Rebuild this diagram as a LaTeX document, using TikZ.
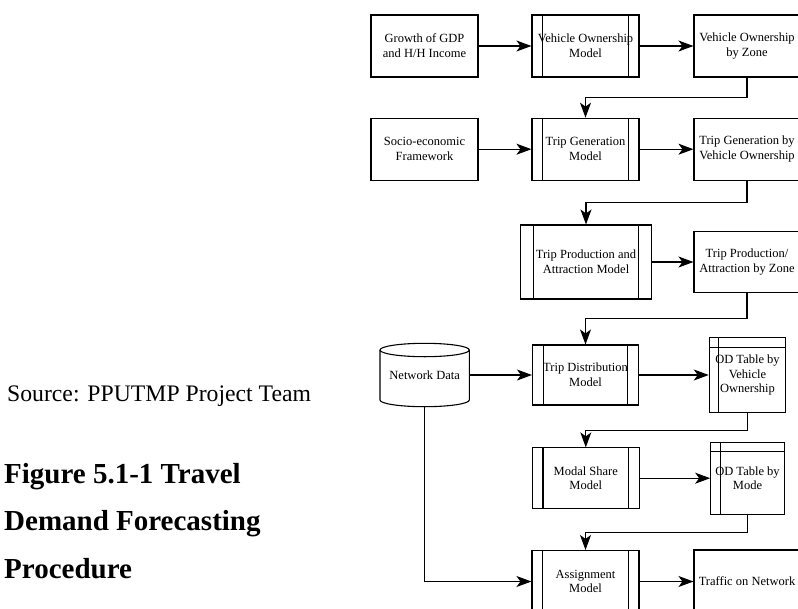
\documentclass[tikz,border=0pt]{standalone}
\usepackage{fontspec}
\setmainfont{Liberation Serif}
\usetikzlibrary{arrows.meta,calc}
\begin{document}
\begin{tikzpicture}[x=1pt,y=-1pt,
  every node/.style={font=\fontsize{12.5}{14.8}\selectfont, align=center, inner sep=1pt},
  box/.style={draw, line width=1.1pt, rectangle},
  process/.style={box, path picture={
    \draw[line width=1.1pt] ($(path picture bounding box.north west)!0.1!(path picture bounding box.north east)$) -- ($(path picture bounding box.south west)!0.1!(path picture bounding box.south east)$);
    \draw[line width=1.1pt] ($(path picture bounding box.north west)!0.9!(path picture bounding box.north east)$) -- ($(path picture bounding box.south west)!0.9!(path picture bounding box.south east)$);}},
  store/.style={box, path picture={
    \draw[line width=1.1pt] ([xshift=9.5pt]path picture bounding box.north west) -- ([xshift=9.5pt]path picture bounding box.south west);
    \draw[line width=1.1pt] ([yshift=-9.5pt]path picture bounding box.north west) -- ([yshift=-9.5pt]path picture bounding box.north east);}},
  arr/.style={line width=1.1pt, -{Stealth[length=15pt,width=11pt,inset=4pt]}},
  elbow/.style={arr, to path={-- ($(\tikztostart)!0.5!(\tikztostart|-\tikztotarget)$) -| (\tikztotarget)}},
  cyl/.style={line width=1.1pt}
]
\fill[white] (0,0) rectangle (798,608);
\useasboundingbox (0,0) rectangle (798,608);
\clip (0,0) rectangle (798,608);

% left texts
\node[anchor=base west, font=\fontsize{23.7}{28}\selectfont, inner sep=0pt] (src) at (7,401) {Source: PPUTMP Project Team};
\node[anchor=base west, font=\bfseries\fontsize{29}{35}\selectfont, inner sep=0pt] (t1) at (4,483.3) {Figure 5.1-1 Travel};
\node[anchor=base west, font=\bfseries\fontsize{29}{35}\selectfont, inner sep=0pt] (t2) at (4,530) {Demand Forecasting};
\node[anchor=base west, font=\bfseries\fontsize{29}{35}\selectfont, inner sep=0pt] (t3) at (4,578.3) {Procedure};

% row 1
\node[box, minimum width=107pt, minimum height=62pt] (g) at (424.5,46) {Growth of GDP\\and H/H Income};
\node[process, minimum width=107pt, minimum height=62pt] (vom) at (585.5,46) {Vehicle Ownership\\Model};
\node[box, minimum width=106pt, minimum height=62pt] (voz) at (747,46) {Vehicle Ownership\\by Zone};
% row 2
\node[box, minimum width=107pt, minimum height=62pt] (se) at (424.5,149.2) {Socio-economic\\Framework};
\node[process, minimum width=107pt, minimum height=62pt] (tgm) at (585.5,149.2) {Trip Generation\\Model};
\node[box, minimum width=106pt, minimum height=62pt] (tgvo) at (747,149.2) {Trip Generation by\\Vehicle Ownership};
% row 3
\node[process, minimum width=131.4pt, minimum height=74pt] (tpa) at (586,262) {Trip Production and\\Attraction Model};
\node[box, minimum width=106pt, minimum height=60.6pt] (tpaz) at (747,262) {Trip Production/\\Attraction by Zone};
% row 4
\node[minimum width=89.3pt, minimum height=63.4pt, outer sep=0pt] (nd) at (424.65,375) {Network Data};
\draw[cyl] ([yshift=-6.7pt]nd.north west) -- ([yshift=6.7pt]nd.south west)
  arc[start angle=180, end angle=360, x radius=44.65pt, y radius=6.7pt]
  -- ([yshift=-6.7pt]nd.north east);
\draw[cyl] ([yshift=-6.7pt]nd.north) ellipse[x radius=44.65pt, y radius=6.7pt];
\node[process, minimum width=106pt, minimum height=60pt] (tdm) at (585.5,375) {Trip Distribution\\Model};
\node[store, minimum width=76.4pt, minimum height=74.6pt] (odvo) at (747.5,375) {OD Table by\\Vehicle\\Ownership};
% row 5
\node[process, minimum width=107pt, minimum height=60.6pt] (msm) at (585.8,478.2) {Modal Share\\Model};
\node[store, minimum width=73.6pt, minimum height=72pt] (odm) at (747.5,478.2) {OD Table by\\Mode};
% row 6
\node[process, minimum width=107pt, minimum height=62pt] (am) at (585.5,581.5) {Assignment\\Model};
\node[box, minimum width=106pt, minimum height=63pt] (tn) at (747,581.5) {Traffic on Network};

% connectors
\draw[arr] (g) -- (vom);
\draw[arr] (vom) -- (voz);
\draw[elbow] (voz.south) to (tgm.north);
\draw[arr] (se) -- (tgm);
\draw[arr] (tgm) -- (tgvo);
\draw[elbow] (tgvo.south) to (tpa.north);
\draw[arr] (tpa) -- (tpaz);
\draw[elbow] (tpaz.south) to (tdm.north);
\draw[arr] (nd.east) -- (tdm.west);
\draw[arr] (tdm) -- (odvo);
\draw[elbow] (odvo.south) to (msm.north);
\draw[arr] (msm) -- (odm);
\draw[elbow] (odm.south) to (am.north);
\draw[arr] (am) -- (tn);
\draw[arr] (nd.south) |- (am.west);
\end{tikzpicture}
\end{document}
